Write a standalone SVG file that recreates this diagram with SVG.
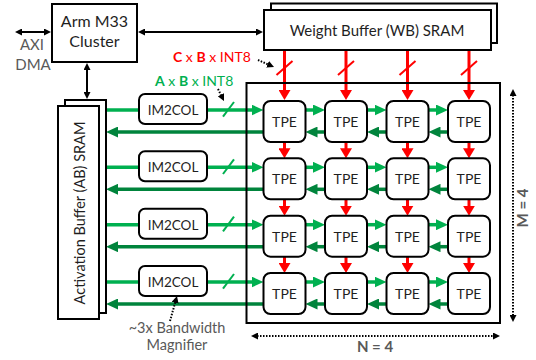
<svg xmlns="http://www.w3.org/2000/svg" width="536" height="360" viewBox="0 0 536 360">
<defs>
<style>
.box{fill:#fff;stroke:#000;stroke-width:2}
.frame{fill:none;stroke:#000;stroke-width:2}
.t{font-family:Lato,"Open Sans","Liberation Sans",sans-serif;fill:#1f1f1f;text-anchor:middle}
.g{fill:#595959}
.b{font-weight:bold}
.red{stroke:#ff0000;stroke-width:3;fill:none}
.lg{stroke:#00b050;stroke-width:3.5;fill:none}
.dg{stroke:#00843c;stroke-width:3.5;fill:none}
.blk{stroke:#000;stroke-width:2;fill:none}
.dot{stroke:#000;stroke-width:2;stroke-dasharray:1.5 1.5;fill:none}
.rs{stroke:#ff0000;stroke-width:2}
.gs{stroke:#00b050;stroke-width:2}
.hr{marker-end:url(#ar)}
.hlg{marker-end:url(#alg)}
.hdg{marker-end:url(#adg)}
.hb{marker-end:url(#ab)}
.hbb{marker-start:url(#ab);marker-end:url(#ab)}
</style>
<marker id="ar" markerUnits="userSpaceOnUse" viewBox="0 0 10 12" markerWidth="10" markerHeight="12" refX="1" refY="6" orient="auto"><path d="M0,0 L10,6 L0,12z" fill="#ff0000"/></marker>
<marker id="alg" markerUnits="userSpaceOnUse" viewBox="0 0 12 11" markerWidth="12" markerHeight="11" refX="1" refY="5.5" orient="auto"><path d="M0,0 L12,5.5 L0,11z" fill="#00b050"/></marker>
<marker id="adg" markerUnits="userSpaceOnUse" viewBox="0 0 12 11" markerWidth="12" markerHeight="11" refX="1" refY="5.5" orient="auto"><path d="M0,0 L12,5.5 L0,11z" fill="#00843c"/></marker>
<marker id="ab" markerUnits="userSpaceOnUse" viewBox="0 0 7 7" markerWidth="7" markerHeight="7" refX="1" refY="3.5" orient="auto-start-reverse"><path d="M0,0 L7,3.5 L0,7z" fill="#000"/></marker>
</defs>
<rect width="536" height="360" fill="#fff"/>

<g id="connectors">
  <!-- black control arrows -->
  <line class="blk hbb" x1="21" y1="32" x2="45" y2="32"/>
  <line class="blk hbb" x1="144" y1="32" x2="257" y2="32"/>
  <line class="blk hbb" x1="87" y1="69" x2="87" y2="93"/>
  <!-- red weight arrows from WB -->
  <line class="red hr" x1="284.5" y1="50" x2="284.5" y2="91"/>
  <line class="red hr" x1="346" y1="50" x2="346" y2="91"/>
  <line class="red hr" x1="407.5" y1="50" x2="407.5" y2="91"/>
  <line class="red hr" x1="469" y1="50" x2="469" y2="91"/>
  <line class="rs" x1="276.5" y1="75" x2="292.5" y2="61"/>
  <line class="rs" x1="338" y1="75" x2="354" y2="61"/>
  <line class="rs" x1="399.5" y1="75" x2="415.5" y2="61"/>
  <line class="rs" x1="461" y1="75" x2="477" y2="61"/>
  <!-- red between rows -->
  <g>
    <line class="red hr" x1="284.5" y1="142" x2="284.5" y2="149.3"/>
    <line class="red hr" x1="346" y1="142" x2="346" y2="149.3"/>
    <line class="red hr" x1="407.5" y1="142" x2="407.5" y2="149.3"/>
    <line class="red hr" x1="469" y1="142" x2="469" y2="149.3"/>
    <line class="red hr" x1="284.5" y1="199.3" x2="284.5" y2="206.7"/>
    <line class="red hr" x1="346" y1="199.3" x2="346" y2="206.7"/>
    <line class="red hr" x1="407.5" y1="199.3" x2="407.5" y2="206.7"/>
    <line class="red hr" x1="469" y1="199.3" x2="469" y2="206.7"/>
    <line class="red hr" x1="284.5" y1="256.7" x2="284.5" y2="264"/>
    <line class="red hr" x1="346" y1="256.7" x2="346" y2="264"/>
    <line class="red hr" x1="407.5" y1="256.7" x2="407.5" y2="264"/>
    <line class="red hr" x1="469" y1="256.7" x2="469" y2="264"/>
  </g>
  <!-- rows of green arrows -->
  <g id="row1-links">
    <line class="lg" x1="105" y1="110" x2="140" y2="110"/>
    <line class="lg hlg" x1="206" y1="110" x2="252.5" y2="110"/>
    <line class="gs" x1="223" y1="116.7" x2="234" y2="102"/>
    <line class="lg hlg" x1="305" y1="110" x2="314" y2="110"/>
    <line class="lg hlg" x1="366.5" y1="110" x2="375.5" y2="110"/>
    <line class="lg hlg" x1="428" y1="110" x2="437" y2="110"/>
    <line class="dg hdg" x1="264" y1="132" x2="117" y2="132"/>
    <line class="dg hdg" x1="326" y1="132" x2="316.5" y2="132"/>
    <line class="dg hdg" x1="387.5" y1="132" x2="378" y2="132"/>
    <line class="dg hdg" x1="449" y1="132" x2="439.5" y2="132"/>
  </g>
  <g id="row2-links">
    <line class="lg" x1="105" y1="167.3" x2="140" y2="167.3"/>
    <line class="lg hlg" x1="206" y1="167.3" x2="252.5" y2="167.3"/>
    <line class="gs" x1="223" y1="174" x2="234" y2="159.3"/>
    <line class="lg hlg" x1="305" y1="167.3" x2="314" y2="167.3"/>
    <line class="lg hlg" x1="366.5" y1="167.3" x2="375.5" y2="167.3"/>
    <line class="lg hlg" x1="428" y1="167.3" x2="437" y2="167.3"/>
    <line class="dg hdg" x1="264" y1="189.3" x2="117" y2="189.3"/>
    <line class="dg hdg" x1="326" y1="189.3" x2="316.5" y2="189.3"/>
    <line class="dg hdg" x1="387.5" y1="189.3" x2="378" y2="189.3"/>
    <line class="dg hdg" x1="449" y1="189.3" x2="439.5" y2="189.3"/>
  </g>
  <g id="row3-links">
    <line class="lg" x1="105" y1="224.7" x2="140" y2="224.7"/>
    <line class="lg hlg" x1="206" y1="224.7" x2="252.5" y2="224.7"/>
    <line class="gs" x1="223" y1="231.4" x2="234" y2="216.7"/>
    <line class="lg hlg" x1="305" y1="224.7" x2="314" y2="224.7"/>
    <line class="lg hlg" x1="366.5" y1="224.7" x2="375.5" y2="224.7"/>
    <line class="lg hlg" x1="428" y1="224.7" x2="437" y2="224.7"/>
    <line class="dg hdg" x1="264" y1="246.7" x2="117" y2="246.7"/>
    <line class="dg hdg" x1="326" y1="246.7" x2="316.5" y2="246.7"/>
    <line class="dg hdg" x1="387.5" y1="246.7" x2="378" y2="246.7"/>
    <line class="dg hdg" x1="449" y1="246.7" x2="439.5" y2="246.7"/>
  </g>
  <g id="row4-links">
    <line class="lg" x1="105" y1="282" x2="140" y2="282"/>
    <line class="lg hlg" x1="206" y1="282" x2="252.5" y2="282"/>
    <line class="gs" x1="223" y1="288.7" x2="234" y2="274"/>
    <line class="lg hlg" x1="305" y1="282" x2="314" y2="282"/>
    <line class="lg hlg" x1="366.5" y1="282" x2="375.5" y2="282"/>
    <line class="lg hlg" x1="428" y1="282" x2="437" y2="282"/>
    <line class="dg hdg" x1="264" y1="304" x2="117" y2="304"/>
    <line class="dg hdg" x1="326" y1="304" x2="316.5" y2="304"/>
    <line class="dg hdg" x1="387.5" y1="304" x2="378" y2="304"/>
    <line class="dg hdg" x1="449" y1="304" x2="439.5" y2="304"/>
  </g>
  <!-- dotted annotation arrows -->
  <line class="dot hb" x1="258" y1="60" x2="268.5" y2="64.6"/>
  <line class="dot hb" x1="218" y1="89" x2="221.3" y2="95.6"/>
  <line class="dot hb" x1="170" y1="321" x2="175.4" y2="301.8"/>
  <line class="dot hbb" x1="513" y1="95" x2="513" y2="316"/>
  <line class="dot hbb" x1="257" y1="336" x2="494" y2="336"/>
</g>

<g id="array-frame"><rect class="frame" x="246.5" y="83" width="253.5" height="240"/></g>

<g id="arm-m33">
  <rect class="box" x="52" y="4" width="85" height="58"/>
  <text class="t" x="94.5" y="27" font-size="16">Arm M33</text>
  <text class="t" x="94.5" y="47" font-size="16">Cluster</text>
</g>

<g id="wb-sram">
  <rect class="box" x="271" y="3.5" width="226" height="39.5"/>
  <rect class="box" x="264" y="10" width="227" height="40"/>
  <text class="t" x="377" y="36" font-size="15">Weight Buffer (WB) SRAM</text>
</g>

<g id="ab-sram">
  <rect class="box" x="65" y="100" width="41" height="213"/>
  <rect class="box" x="58" y="106" width="41" height="213"/>
  <text class="t" transform="translate(85,213) rotate(-90)" font-size="14.5">Activation Buffer (AB) SRAM</text>
</g>

<g id="im2col-1"><rect class="box" x="139" y="94" width="68" height="30" rx="6"/><text class="t" x="173" y="115" font-size="13.5">IM2COL</text></g>
<g id="im2col-2"><rect class="box" x="139" y="151.3" width="68" height="30" rx="6"/><text class="t" x="173" y="172.3" font-size="13.5">IM2COL</text></g>
<g id="im2col-3"><rect class="box" x="139" y="208.7" width="68" height="30" rx="6"/><text class="t" x="173" y="229.7" font-size="13.5">IM2COL</text></g>
<g id="im2col-4"><rect class="box" x="139" y="266" width="68" height="30" rx="6"/><text class="t" x="173" y="287" font-size="13.5">IM2COL</text></g>

<g id="tpe-1-1"><rect class="box" x="263.5" y="101" width="42" height="41" rx="7"/><text class="t" x="284.5" y="127" font-size="14">TPE</text></g>
<g id="tpe-1-2"><rect class="box" x="325" y="101" width="42" height="41" rx="7"/><text class="t" x="346" y="127" font-size="14">TPE</text></g>
<g id="tpe-1-3"><rect class="box" x="386.5" y="101" width="42" height="41" rx="7"/><text class="t" x="407.5" y="127" font-size="14">TPE</text></g>
<g id="tpe-1-4"><rect class="box" x="448" y="101" width="42" height="41" rx="7"/><text class="t" x="469" y="127" font-size="14">TPE</text></g>

<g id="tpe-2-1"><rect class="box" x="263.5" y="158.3" width="42" height="41" rx="7"/><text class="t" x="284.5" y="184.3" font-size="14">TPE</text></g>
<g id="tpe-2-2"><rect class="box" x="325" y="158.3" width="42" height="41" rx="7"/><text class="t" x="346" y="184.3" font-size="14">TPE</text></g>
<g id="tpe-2-3"><rect class="box" x="386.5" y="158.3" width="42" height="41" rx="7"/><text class="t" x="407.5" y="184.3" font-size="14">TPE</text></g>
<g id="tpe-2-4"><rect class="box" x="448" y="158.3" width="42" height="41" rx="7"/><text class="t" x="469" y="184.3" font-size="14">TPE</text></g>

<g id="tpe-3-1"><rect class="box" x="263.5" y="215.7" width="42" height="41" rx="7"/><text class="t" x="284.5" y="241.7" font-size="14">TPE</text></g>
<g id="tpe-3-2"><rect class="box" x="325" y="215.7" width="42" height="41" rx="7"/><text class="t" x="346" y="241.7" font-size="14">TPE</text></g>
<g id="tpe-3-3"><rect class="box" x="386.5" y="215.7" width="42" height="41" rx="7"/><text class="t" x="407.5" y="241.7" font-size="14">TPE</text></g>
<g id="tpe-3-4"><rect class="box" x="448" y="215.7" width="42" height="41" rx="7"/><text class="t" x="469" y="241.7" font-size="14">TPE</text></g>

<g id="tpe-4-1"><rect class="box" x="263.5" y="273" width="42" height="41" rx="7"/><text class="t" x="284.5" y="299" font-size="14">TPE</text></g>
<g id="tpe-4-2"><rect class="box" x="325" y="273" width="42" height="41" rx="7"/><text class="t" x="346" y="299" font-size="14">TPE</text></g>
<g id="tpe-4-3"><rect class="box" x="386.5" y="273" width="42" height="41" rx="7"/><text class="t" x="407.5" y="299" font-size="14">TPE</text></g>
<g id="tpe-4-4"><rect class="box" x="448" y="273" width="42" height="41" rx="7"/><text class="t" x="469" y="299" font-size="14">TPE</text></g>

<g id="labels">
  <text class="t g" x="32" y="50" font-size="15">AXI</text>
  <text class="t g" x="33" y="70" font-size="15">DMA</text>
  <text class="t" x="173" y="62" font-size="14" style="text-anchor:start;fill:#ff0000"><tspan class="b">C</tspan> x <tspan class="b">B</tspan> x INT8</text>
  <text class="t" x="155" y="86" font-size="14" style="text-anchor:start;fill:#00b050"><tspan class="b">A</tspan> x <tspan class="b">B</tspan> x INT8</text>
  <text class="t g" x="177" y="333" font-size="14.5">~3x Bandwidth</text>
  <text class="t g" x="177" y="350" font-size="14.5">Magnifier</text>
  <text class="t g b" x="375" y="352" font-size="15">N = 4</text>
  <text class="t g b" transform="translate(528,208) rotate(-90)" font-size="15">M = 4</text>
</g>
</svg>
